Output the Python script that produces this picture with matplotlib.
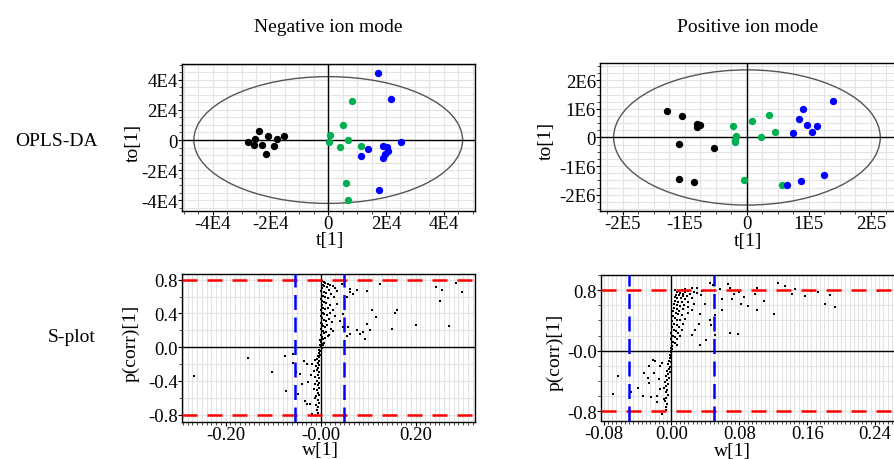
import numpy as np
import matplotlib.pyplot as plt
from matplotlib.patches import Ellipse
from matplotlib.ticker import MultipleLocator, FixedLocator, FixedFormatter

plt.rcParams['font.family'] = ['Liberation Serif', 'DejaVu Serif']
plt.rcParams['font.size'] = 14

# ---- OPLS-DA scores, negative ion mode (t[1], to[1]) ----
neg_black_t = [-2.39e4, -2.54e4, -2.79e4, -2.57e4, -2.28e4, -2.10e4, -1.78e4, -1.52e4, -1.87e4, -2.17e4]
neg_black_to = [0.62e4, 0.07e4, -0.11e4, -0.33e4, -0.33e4, 0.24e4, 0.07e4, 0.24e4, -0.42e4, -0.93e4]
neg_green_t = [0.83e4, 0.52e4, 0.05e4, 0.03e4, 0.70e4, 0.42e4, 1.14e4, 0.61e4, 0.70e4]
neg_green_to = [2.56e4, 1.00e4, 0.33e4, -0.16e4, 0.00e4, -0.49e4, -0.42e4, -2.87e4, -3.98e4]
neg_blue_t = [1.72e4, 2.16e4, 2.53e4, 1.38e4, 1.13e4, 1.90e4, 2.04e4, 2.08e4, 1.98e4, 1.90e4, 1.75e4]
neg_blue_to = [4.47e4, 2.73e4, -0.13e4, -0.60e4, -1.07e4, -0.42e4, -0.49e4, -0.76e4, -0.93e4, -1.16e4, -3.31e4]

# ---- OPLS-DA scores, positive ion mode ----
pos_black_t = [-1.29e5, -1.05e5, -0.81e5, -0.75e5, -0.81e5, -1.10e5, -0.53e5, -1.10e5, -0.85e5]
pos_black_to = [0.91e6, 0.76e6, 0.47e6, 0.44e6, 0.35e6, -0.23e6, -0.37e6, -1.44e6, -1.56e6]
pos_green_t = [-0.23e5, 0.08e5, 0.36e5, 0.46e5, 0.23e5, -0.18e5, -0.19e5, -0.20e5, -0.04e5, 0.56e5]
pos_green_to = [0.39e6, 0.56e6, 0.80e6, 0.19e6, 0.00e6, 0.04e6, -0.09e6, -0.16e6, -1.49e6, -1.65e6]
pos_blue_t = [1.38e5, 0.90e5, 0.84e5, 0.97e5, 1.13e5, 1.05e5, 0.74e5, 1.25e5, 0.87e5, 0.65e5]
pos_blue_to = [1.29e6, 0.99e6, 0.63e6, 0.42e6, 0.39e6, 0.19e6, 0.15e6, -1.31e6, -1.52e6, -1.65e6]

# Hotelling T2 ellipse half-widths
neg_ellipse = (4.65e4, 4.2e4)
pos_ellipse = (2.15e5, 2.36e6)

# ---- S-plot, negative ion mode (w[1], p(corr)[1]) ----
neg_w = [0.002, 0.006, 0.010, 0.015, 0.020, 0.004, 0.008, 0.013, 0.025, 0.030, 0.003, 0.018, 0.001, 0.006,
         0.011, 0.022, 0.035, 0.004, 0.009, 0.016, 0.028, 0.000, 0.003, 0.007, 0.012, 0.020, 0.002, 0.005,
         0.010, 0.015, 0.025, 0.001, 0.004, 0.008, 0.013, 0.019, 0.030, 0.000, 0.003, 0.006, 0.011, 0.017,
         0.024, 0.000, 0.002, 0.005, 0.009, 0.014, 0.021, 0.001, 0.004, 0.007, 0.012, 0.018, 0.027, 0.000,
         0.002, 0.005, 0.010, 0.015, -0.001, 0.001, 0.003, 0.006, -0.002, 0.000, 0.002, -0.003, -0.001,
         -0.004, -0.002, 0.004, -0.005, -0.003, -0.008, -0.004, -0.012, -0.006, -0.003, -0.010, -0.018,
         -0.005, -0.008, -0.014, -0.003, -0.006, -0.011, -0.020, -0.004, -0.008, -0.003, -0.006, -0.012,
         -0.004, -0.008, -0.015, -0.005, -0.003, -0.009, -0.006, -0.004, -0.010, -0.006, -0.008, -0.005,
         -0.012,
         0.044, 0.062, 0.076, 0.097, 0.125, 0.160, 0.156, 0.109, 0.116, 0.097, 0.083, 0.090, 0.104, 0.093,
         0.058, 0.055, 0.062, 0.076, 0.200, 0.151, 0.251, 0.255, 0.243, 0.286, 0.297, 0.270, 0.048, 0.055,
         0.034, 0.041, 0.048, 0.062, 0.069,
         -0.152, -0.266, -0.102, -0.075, -0.058, -0.072, -0.051, -0.036, -0.044, -0.029, -0.040, -0.026,
         -0.033, -0.022, -0.019, -0.029, -0.058, -0.047]
neg_p = [0.78, 0.77, 0.76, 0.75, 0.74, 0.74, 0.72, 0.71, 0.72, 0.70, 0.70, 0.68, 0.66, 0.65,
         0.64, 0.63, 0.66, 0.61, 0.60, 0.58, 0.60, 0.57, 0.55, 0.53, 0.52, 0.50, 0.50, 0.47,
         0.45, 0.46, 0.44, 0.44, 0.41, 0.39, 0.38, 0.40, 0.37, 0.37, 0.34, 0.32, 0.31, 0.33,
         0.30, 0.29, 0.27, 0.25, 0.24, 0.26, 0.22, 0.22, 0.19, 0.17, 0.18, 0.15, 0.19, 0.15,
         0.12, 0.10, 0.11, 0.13, 0.08, 0.06, 0.04, 0.05, 0.02, 0.00, -0.01, -0.03, -0.05,
         -0.07, -0.09, 0.02, -0.10, -0.12, -0.14, -0.16, -0.15, -0.19, -0.21, -0.22, -0.20,
         -0.25, -0.27, -0.28, -0.30, -0.33, -0.35, -0.33, -0.37, -0.40, -0.42, -0.45, -0.44,
         -0.48, -0.51, -0.49, -0.54, -0.57, -0.58, -0.62, -0.66, -0.68, -0.71, -0.75, -0.78,
         -0.60,
         0.743, 0.692, 0.672, 0.664, 0.743, 0.435, 0.403, 0.435, 0.356, 0.277, 0.158, 0.178, 0.198, 0.099,
         0.237, 0.138, 0.158, 0.198, 0.257, 0.217, 0.553, 0.672, 0.711, 0.763, 0.648, 0.249, 0.395, 0.593,
         0.514, 0.316, 0.237, 0.652, 0.632,
         -0.130, -0.336, -0.289, -0.099, -0.190, -0.514, -0.296, -0.158, -0.316, -0.198, -0.435, -0.415,
         -0.632, -0.672, -0.791, -0.672, -0.079, -0.553]

# ---- S-plot, positive ion mode ----
pos_w = [0.004, 0.008, 0.012, 0.016, 0.020, 0.026, 0.006, 0.010, 0.014, 0.022, 0.030, 0.005, 0.009, 0.013,
         0.018, 0.035, 0.004, 0.007, 0.011, 0.016, 0.024, 0.004, 0.008, 0.012, 0.019, 0.003, 0.006, 0.010,
         0.015, 0.027, 0.003, 0.006, 0.009, 0.013, 0.002, 0.005, 0.008, 0.012, 0.020, 0.002, 0.004, 0.007,
         0.010, 0.016, 0.001, 0.003, 0.006, 0.009, 0.014, 0.001, 0.003, 0.005, 0.008, 0.012, 0.000, 0.002,
         0.004, 0.007, 0.010, 0.000, 0.002, 0.004, 0.006, 0.001, -0.001, 0.001, 0.000, -0.001, -0.002,
         0.000, -0.002, -0.003, -0.001, -0.004, -0.002, -0.003, -0.005, -0.002, -0.004, -0.006, -0.003,
         -0.005, -0.008, -0.004, -0.006, -0.009, -0.005, -0.007, -0.004, -0.006, -0.008, -0.005, -0.007,
         -0.006,
         0.016, 0.024, 0.030, 0.036, 0.045, 0.049, 0.057, 0.067, 0.069, 0.074, 0.080, 0.086, 0.098, 0.101,
         0.101, 0.121, 0.126, 0.134, 0.142, 0.158, 0.164, 0.173, 0.181, 0.187, 0.193, 0.243, 0.069, 0.078,
         0.051, 0.045, 0.040, 0.034, 0.032, 0.024, 0.028, 0.034, 0.051, 0.059, 0.071, 0.082, 0.090, 0.109,
         0.024, 0.020, 0.041, 0.047, 0.146, 0.059,
         -0.069, -0.063, -0.048, -0.040, -0.034, -0.028, -0.026, -0.024, -0.022, -0.019, -0.014, -0.021,
         -0.017, -0.011, -0.013, -0.009, -0.026, -0.015, -0.032, -0.011, -0.017]
pos_p = [0.80, 0.79, 0.80, 0.78, 0.79, 0.77, 0.77, 0.76, 0.75, 0.75, 0.76, 0.74, 0.73, 0.72,
         0.72, 0.73, 0.71, 0.69, 0.70, 0.68, 0.70, 0.66, 0.65, 0.64, 0.65, 0.62, 0.60, 0.59,
         0.61, 0.62, 0.57, 0.55, 0.53, 0.55, 0.52, 0.50, 0.48, 0.47, 0.50, 0.46, 0.43, 0.41,
         0.40, 0.42, 0.39, 0.36, 0.34, 0.32, 0.35, 0.31, 0.28, 0.26, 0.24, 0.27, 0.23, 0.20,
         0.18, 0.16, 0.19, 0.15, 0.12, 0.10, 0.08, 0.06, 0.04, 0.02, 0.00, -0.02, -0.05,
         -0.07, -0.10, -0.13, -0.15, -0.18, -0.21, -0.24, -0.26, -0.28, -0.31, -0.33, -0.36,
         -0.39, -0.41, -0.44, -0.47, -0.49, -0.52, -0.55, -0.58, -0.62, -0.66, -0.70, -0.74,
         -0.78,
         0.814, 0.827, 0.835, 0.792, 0.900, 0.870, 0.814, 0.879, 0.835, 0.749, 0.771, 0.714, 0.749, 0.827,
         0.532, 0.489, 0.900, 0.857, 0.749, 0.719, 0.792, 0.771, 0.619, 0.740, 0.576, 0.792, 0.229, 0.221,
         0.468, 0.403, 0.619, 0.489, 0.359, 0.208, 0.273, 0.078, 0.208, 0.684, 0.684, 0.619, 0.597, 0.662,
         0.532, 0.576, 0.143, 0.338, 0.814, 0.532,
         -0.571, -0.333, -0.541, -0.485, -0.593, -0.355, -0.420, -0.615, -0.117, -0.139, -0.203, -0.290,
         -0.680, -0.831, -0.506, -0.636, -0.203, -0.377, -0.290, -0.160, -0.593]

p_cut = 0.8
neg_w_cut = (-0.055, 0.05)
pos_w_cut = (-0.05, 0.05)

GREEN = '#00b050'
BLUE = '#0000ff'


def style_axes(ax, xminor, yminor):
    ax.xaxis.set_minor_locator(MultipleLocator(xminor))
    ax.yaxis.set_minor_locator(MultipleLocator(yminor))
    ax.grid(True, which='both', color='#e3e3e3', lw=0.8)
    ax.set_axisbelow(True)
    ax.tick_params(which='major', direction='out', length=3, width=0.8, pad=0, labelsize=13.5)
    ax.tick_params(which='minor', direction='out', length=2, width=0.5)
    ax.axhline(0, color='black', lw=1)
    ax.axvline(0, color='black', lw=1)
    for s in ax.spines.values():
        s.set_linewidth(1)


def set_ticks(ax, axis, vals, labels):
    a = ax.xaxis if axis == 'x' else ax.yaxis
    a.set_major_locator(FixedLocator(vals))
    a.set_major_formatter(FixedFormatter(labels))


def scores(ax, groups, ell, xlim, ylim):
    ax.add_patch(Ellipse((0, 0), 2 * ell[0], 2 * ell[1], fill=False, ec='#555555', lw=1))
    for t, to, c in groups:
        ax.scatter(t, to, s=28, color=c, zorder=3, lw=0)
    ax.set_xlim(*xlim)
    ax.set_ylim(*ylim)


def splot(ax, w, p, wcut, xlim, ylim):
    ax.scatter(w, p, s=2.5, marker='s', color='black', lw=0, zorder=3)
    for y in (-p_cut, p_cut):
        ax.axhline(y, color='red', lw=1.8, dashes=(6, 4), zorder=4)
    for x in wcut:
        ax.axvline(x, color=BLUE, lw=1.8, dashes=(6, 3), zorder=4)
    ax.set_xlim(*xlim)
    ax.set_ylim(*ylim)


fig = plt.figure(figsize=(8.95, 4.6), dpi=100)
W, H = 895, 460


def px_axes(l, r, t, b):
    return fig.add_axes([l / W, (H - b) / H, (r - l) / W, (b - t) / H])


ax1 = px_axes(182, 475, 64.5, 211.5)
scores(ax1, [(neg_black_t, neg_black_to, 'black'), (neg_green_t, neg_green_to, GREEN),
             (neg_blue_t, neg_blue_to, BLUE)], neg_ellipse, (-5.06e4, 5.08e4), (-4.67e4, 5.07e4))
set_ticks(ax1, 'x', [-4e4, -2e4, 0, 2e4, 4e4], ['-4E4', '-2E4', '0', '2E4', '4E4'])
set_ticks(ax1, 'y', [-4e4, -2e4, 0, 2e4, 4e4], ['-4E4', '-2E4', '0', '2E4', '4E4'])
style_axes(ax1, 5000, 5000)

ax2 = px_axes(600, 897, 64, 211.5)
scores(ax2, [(pos_black_t, pos_black_to, 'black'), (pos_green_t, pos_green_to, GREEN),
             (pos_blue_t, pos_blue_to, BLUE)], pos_ellipse, (-2.37e5, 2.42e5), (-2.55e6, 2.6e6))
set_ticks(ax2, 'x', [-2e5, -1e5, 0, 1e5, 2e5], ['-2E5', '-1E5', '0', '1E5', '2E5'])
set_ticks(ax2, 'y', [-2e6, -1e6, 0, 1e6, 2e6], ['-2E6', '-1E6', '0', '1E6', '2E6'])
style_axes(ax2, 25000, 250000)

ax3 = px_axes(182, 475, 275, 422.7)
splot(ax3, neg_w, neg_p, neg_w_cut, (-0.292, 0.325), (-0.883, 0.867))
set_ticks(ax3, 'x', [-0.2, 0, 0.2], ['-0.20', '-0.00', '0.20'])
set_ticks(ax3, 'y', [-0.8, -0.4, 0, 0.4, 0.8], ['-0.8', '-0.4', '0.0', '0.4', '0.8'])
style_axes(ax3, 0.01, 0.2)

ax4 = px_axes(600.7, 897, 276, 422.3)
splot(ax4, pos_w, pos_p, pos_w_cut, (-0.0835, 0.266), (-0.93, 1.0))
set_ticks(ax4, 'x', [-0.08, 0, 0.08, 0.16, 0.24], ['-0.08', '0.00', '0.08', '0.16', '0.24'])
set_ticks(ax4, 'y', [-0.8, 0, 0.8], ['-0.8', '-0.0', '0.8'])
style_axes(ax4, 0.005, 0.2)


def ftext(x, y, s, **kw):
    fig.text(x / W, 1 - y / H, s, ha='center', va='center', **kw)


ftext(328, 27, 'Negative ion mode')
ftext(748, 27, 'Positive ion mode')
ftext(57, 141, 'OPLS-DA')
ftext(72, 338, 'S-plot')
ftext(133, 143, 'to[1]', rotation=90)
ftext(546, 141, 'to[1]', rotation=90)
ftext(330, 241, 't[1]')
ftext(748, 242, 't[1]')
ftext(131, 343, 'p(corr)[1]', rotation=90)
ftext(555, 352, 'p(corr)[1]', rotation=90)
ftext(320, 451, 'w[1]')
ftext(732, 452, 'w[1]')

fig.savefig('out.png', dpi=100)
